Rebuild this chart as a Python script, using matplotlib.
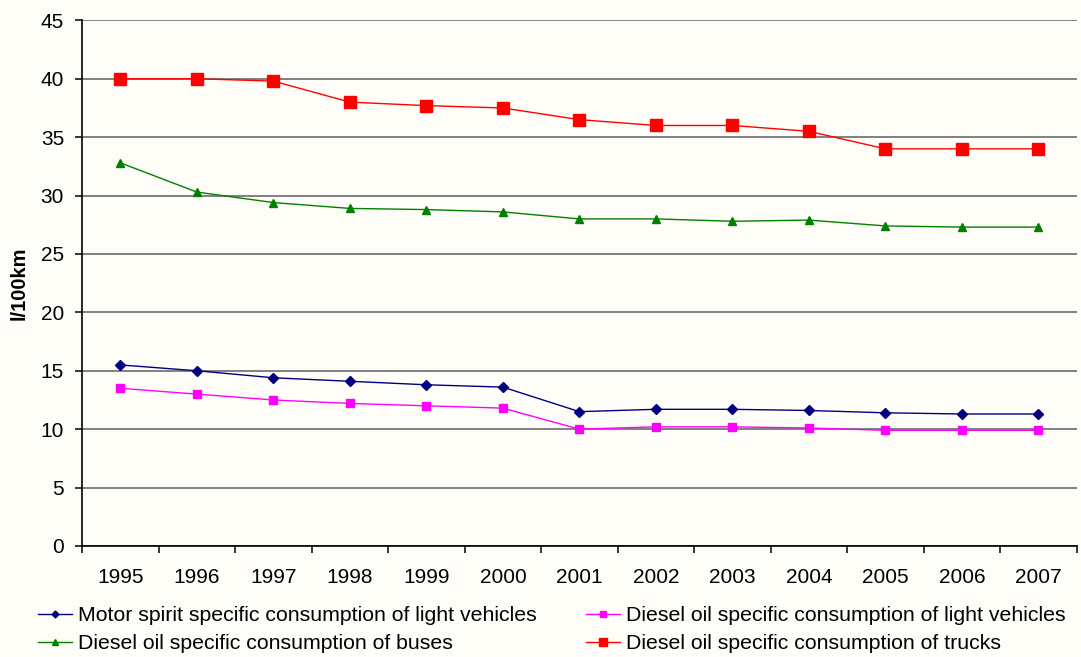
import matplotlib.pyplot as plt

years = ["1995", "1996", "1997", "1998", "1999", "2000", "2001",
         "2002", "2003", "2004", "2005", "2006", "2007"]

motor_light = [15.5, 15.0, 14.4, 14.1, 13.8, 13.6, 11.5, 11.7, 11.7, 11.6, 11.4, 11.3, 11.3]
diesel_light = [13.5, 13.0, 12.5, 12.2, 12.0, 11.8, 10.0, 10.2, 10.2, 10.1, 9.9, 9.9, 9.9]
diesel_buses = [32.8, 30.3, 29.4, 28.9, 28.8, 28.6, 28.0, 28.0, 27.8, 27.9, 27.4, 27.3, 27.3]
diesel_trucks = [40.0, 40.0, 39.8, 38.0, 37.7, 37.5, 36.5, 36.0, 36.0, 35.5, 34.0, 34.0, 34.0]

labels = ["Motor spirit specific consumption of light vehicles",
          "Diesel oil specific consumption of light vehicles",
          "Diesel oil specific consumption of buses",
          "Diesel oil specific consumption of trucks"]

plt.rcParams['font.family'] = ['Liberation Sans', 'DejaVu Sans']
bg = '#fffdf8'

fig = plt.figure(figsize=(10.81, 6.57), dpi=100, facecolor=bg)
ax = fig.add_axes([0.076, 0.169, 0.92, 0.8])
ax.set_facecolor(bg)

x = range(len(years))
h1, = ax.plot(x, motor_light, color='#000080', marker='D', ms=5, lw=1.0, label=labels[0])
h2, = ax.plot(x, diesel_light, color='#ff00ff', marker='s', ms=6, lw=1.0, label=labels[1])
h3, = ax.plot(x, diesel_buses, color='#008000', marker='^', ms=6, lw=1.0, label=labels[2])
h4, = ax.plot(x, diesel_trucks, color='#ff0000', marker='s', ms=8.5, lw=1.0, label=labels[3])

ax.set_xlim(-0.5, len(years) - 0.5)
ax.set_ylim(0, 45)
ax.set_yticks(range(0, 46, 5))
ax.set_xticks(list(x))
ax.set_xticklabels(years, fontsize=15)
ax.set_xticks([i - 0.5 for i in range(len(years) + 1)], minor=True)
ax.tick_params(axis='x', which='major', length=0, pad=16)
ax.tick_params(axis='x', which='minor', length=5, width=1.1, direction='out', color='#000000')
ax.tick_params(axis='y', labelsize=15, length=5, width=1.1, direction='out', pad=8)
ax.set_ylabel("l/100km", fontsize=14.5, fontweight='bold', labelpad=9)

ax.yaxis.grid(True, color='#808080', lw=1.4)
ax.set_axisbelow(True)
for side in ['top', 'right']:
    ax.spines[side].set_visible(False)
ax.spines['left'].set_linewidth(1.2)
ax.spines['bottom'].set_linewidth(1.2)

# column-wise fill: motor/buses left, diesel light/trucks right
fig.legend(handles=[h1, h3, h2, h4], loc='lower left', bbox_to_anchor=(0.035, 0.006),
           ncol=2, frameon=False, fontsize=15.3, handlelength=1.6, handletextpad=0.3,
           columnspacing=2.3, labelspacing=0.42, markerscale=0.7,
           borderpad=0, borderaxespad=0)

fig.savefig("out.png", dpi=100, facecolor=bg)
